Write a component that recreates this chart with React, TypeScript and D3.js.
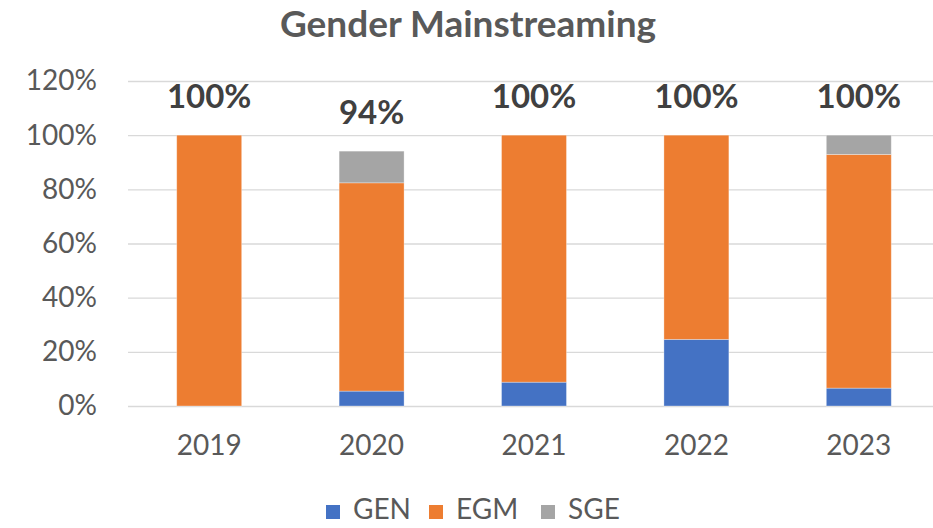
import { useEffect, useRef } from 'react';
import * as d3 from 'd3';

// datos (proporciones)
const years = ['2019', '2020', '2021', '2022', '2023'];
const gen = [0, 0.055, 0.088, 0.246, 0.066];
const egm = [1.0, 0.769, 0.912, 0.754, 0.863];
const sge = [0, 0.117, 0, 0, 0.071];
const totalLabels = ['100%', '94%', '100%', '100%', '100%'];
const yTicks = [0, 0.2, 0.4, 0.6, 0.8, 1.0, 1.2];

const seriesNames = ['GEN', 'EGM', 'SGE'];
const colors = ['#4472C4', '#ED7D31', '#A5A5A5'];

const W = 933;
const H = 528;
const FONT = 'Lato, "Open Sans", sans-serif';

export default function App() {
  const svgRef = useRef<SVGSVGElement | null>(null);

  useEffect(() => {
    if (!svgRef.current) return;
    const svg = d3.select(svgRef.current);
    svg.selectAll('*').remove();

    const m = { top: 81, left: 128, right: -7, bottom: 122 };
    const iW = W - m.left - m.right;
    const iH = H - m.top - m.bottom;

    const x = d3.scaleBand<string>().domain(years).range([0, iW]).paddingInner(0.6).paddingOuter(0.3);
    const y = d3.scaleLinear().domain([0, 1.2]).range([iH, 0]);

    // título
    svg.append('text')
      .attr('x', 468).attr('y', 37)
      .attr('text-anchor', 'middle')
      .attr('font-family', FONT).attr('font-weight', 700)
      .attr('font-size', 37).attr('fill', '#595959')
      .text('Gender Mainstreaming');

    const g = svg.append('g').attr('transform', `translate(${m.left},${m.top})`);

    // rejilla + etiquetas del eje Y
    g.append('g')
      .call(d3.axisLeft(y).tickValues(yTicks).tickSize(-iW).tickPadding(31)
        .tickFormat(d => `${Math.round(+d * 100)}%`))
      .call(ax => ax.select('.domain').remove())
      .call(ax => ax.selectAll('line').attr('stroke', '#D9D9D9').attr('stroke-width', 1.3))
      .call(ax => ax.selectAll('text')
        .attr('fill', '#595959').attr('font-size', 28).attr('font-family', FONT));

    // eje X
    g.append('g')
      .attr('transform', `translate(0,${iH})`)
      .call(d3.axisBottom(x).tickSize(0).tickPadding(29))
      .call(ax => ax.select('.domain').remove())
      .call(ax => ax.selectAll('text')
        .attr('fill', '#595959').attr('font-size', 28).attr('font-family', FONT));

    // barras apiladas
    const rows = years.map((yr, i) => ({ year: yr, GEN: gen[i], EGM: egm[i], SGE: sge[i] }));
    const stack = d3.stack<any>().keys(seriesNames)(rows);

    stack.forEach((layer, si) => {
      g.append('g')
        .selectAll('rect')
        .data(layer)
        .join('rect')
        .attr('x', d => x(d.data.year)!)
        .attr('width', x.bandwidth())
        .attr('y', d => y(d[1]))
        .attr('height', d => Math.max(0, y(d[0]) - y(d[1])))
        .attr('fill', colors[si])
        .attr('stroke', '#ffffff')
        .attr('stroke-opacity', 0.4)
        .attr('stroke-width', 0.8);
    });

    // totales
    g.append('g')
      .selectAll('text')
      .data(years)
      .join('text')
      .attr('x', d => x(d)! + x.bandwidth() / 2)
      .attr('y', (_, i) => y(gen[i] + egm[i] + sge[i]) - 27)
      .attr('text-anchor', 'middle')
      .attr('font-family', FONT).attr('font-weight', 700)
      .attr('font-size', 33).attr('fill', '#404040')
      .text((_, i) => totalLabels[i]);

    // leyenda
    const legendX = [326, 429, 541];
    const lg = svg.append('g');
    seriesNames.forEach((name, i) => {
      lg.append('rect')
        .attr('x', legendX[i]).attr('y', 505)
        .attr('width', 14).attr('height', 14)
        .attr('fill', colors[i]);
      lg.append('text')
        .attr('x', legendX[i] + 27).attr('y', 519)
        .attr('font-family', FONT).attr('font-size', 28)
        .attr('fill', '#595959')
        .text(name);
    });
  }, []);

  return (
    <svg
      ref={svgRef}
      width={W}
      height={H}
      style={{ position: 'absolute', left: 0, top: 0, background: '#fff' }}
    />
  );
}
